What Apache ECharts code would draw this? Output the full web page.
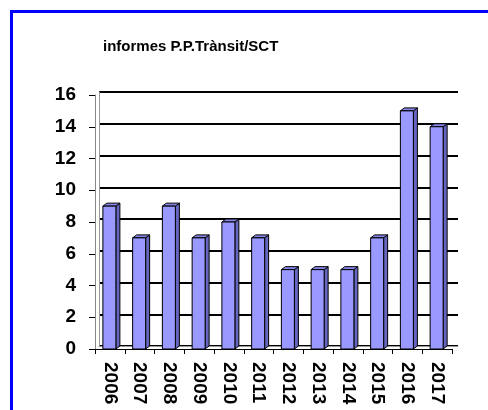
<!DOCTYPE html>
<html>
<head>
<meta charset="utf-8">
<script src="https://cdn.jsdelivr.net/npm/echarts@6/dist/echarts.min.js"></script>
<style>
  html, body { margin: 0; padding: 0; background: #fff; }
  #chart { width: 488px; height: 410px; }
</style>
</head>
<body>
<div id="chart"></div>
<script>
// dades del gràfic
const years = ['2006', '2007', '2008', '2009', '2010', '2011', '2012', '2013', '2014', '2015', '2016', '2017'];
const informes = [9, 7, 9, 7, 8, 7, 5, 5, 5, 7, 15, 14];
const titleText = 'informes P.P.Trànsit/SCT';

const chart = echarts.init(document.getElementById('chart'), null, { renderer: 'canvas' });

// barra "3D" a l'estil Excel: cara frontal, lateral i superior
function renderBar3d(params, api) {
  const top = api.coord([api.value(0), api.value(1)]);
  const base = api.coord([api.value(0), 0]);
  const w = 13, d = 4, dy = 3;
  const left = top[0] - 7;
  const right = left + w;
  return {
    type: 'group',
    children: [
      {
        type: 'polygon',
        shape: { points: [[right, top[1]], [right + d, top[1] - dy], [right + d, base[1] - dy], [right, base[1]]] },
        style: { fill: '#6666c0', stroke: '#000', lineWidth: 1 }
      },
      {
        type: 'polygon',
        shape: { points: [[left, top[1]], [left + d, top[1] - dy], [right + d, top[1] - dy], [right, top[1]]] },
        style: { fill: '#8484e6', stroke: '#000', lineWidth: 1 }
      },
      {
        type: 'rect',
        shape: { x: left, y: top[1], width: w, height: base[1] - top[1] },
        style: { fill: '#9999ff', stroke: '#000', lineWidth: 1 }
      }
    ]
  };
}

const labelFont = { fontSize: 19, fontWeight: 'bold', color: '#000', fontFamily: 'Liberation Sans' };

const option = {
  animation: false,
  backgroundColor: '#fff',
  textStyle: { fontFamily: 'Liberation Sans' },
  graphic: [
    {
      type: 'rect',
      shape: { x: 11.5, y: 11.5, width: 520, height: 450 },
      style: { fill: 'none', stroke: '#0000ff', lineWidth: 3 },
      z: 10
    }
  ],
  title: {
    text: titleText,
    left: 98,
    top: 34,
    textStyle: { fontSize: 15, fontWeight: 'bold', color: '#000', fontFamily: 'Liberation Sans' }
  },
  grid: [
    // pla frontal (eixos i barres)
    { left: 95, right: 36, top: 95, bottom: 61 },
    // paret del fons (línies de graella)
    { left: 99, right: 30, top: 92, bottom: 64 }
  ],
  xAxis: [
    {
      type: 'category',
      data: years,
      gridIndex: 0,
      axisLine: { lineStyle: { color: '#000', width: 1 } },
      axisTick: { show: true, length: 5, lineStyle: { color: '#000' } },
      axisLabel: Object.assign({ rotate: -90, margin: 13 }, labelFont),
      z: 3
    },
    {
      type: 'category',
      data: years,
      gridIndex: 1,
      axisLine: { lineStyle: { color: '#999', width: 1 } },
      axisTick: { show: false },
      axisLabel: { show: false }
    }
  ],
  yAxis: [
    {
      type: 'value',
      gridIndex: 0,
      min: 0,
      max: 16,
      interval: 2,
      axisLine: { show: true, lineStyle: { color: '#888', width: 1 } },
      axisTick: { show: true, length: 6, lineStyle: { color: '#000' } },
      axisLabel: Object.assign({ margin: 19 }, labelFont),
      splitLine: { show: false }
    },
    {
      type: 'value',
      gridIndex: 1,
      min: 0,
      max: 16,
      interval: 2,
      axisLine: { show: true, lineStyle: { color: '#999', width: 1 } },
      axisTick: { show: false },
      axisLabel: { show: false },
      splitLine: { lineStyle: { color: '#000', width: 2 } }
    }
  ],
  series: [
    {
      type: 'custom',
      xAxisIndex: 0,
      yAxisIndex: 0,
      renderItem: renderBar3d,
      data: informes.map((v, i) => [i, v]),
      z: 5
    }
  ]
};

chart.setOption(option);
</script>
</body>
</html>
